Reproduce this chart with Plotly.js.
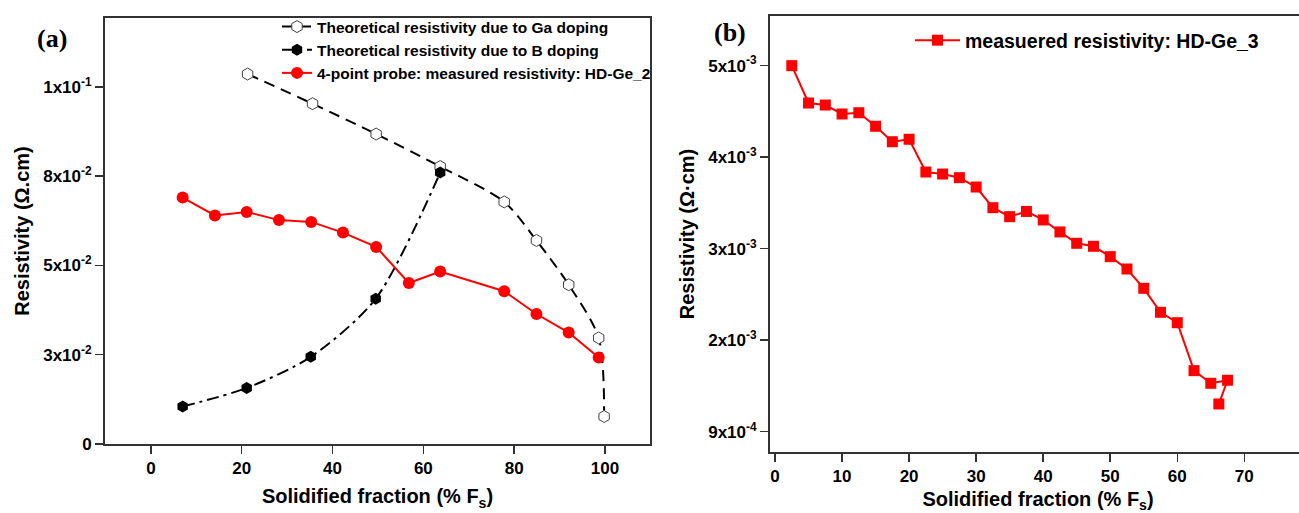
<!DOCTYPE html>
<html>
<head>
<meta charset="utf-8">
<script src="https://cdn.plot.ly/plotly-3.0.1.min.js"></script>
<style>
html,body{margin:0;padding:0;overflow:hidden;background:#fff;}
#chart{width:1310px;height:513px;}
</style>
</head>
<body>
<div id="chart"></div>
<script>
// Panel (a)
const gaX = [21.3, 35.6, 49.6, 63.7, 77.8, 84.9, 92.0, 98.6, 99.8];
const gaY = [0.1036, 0.0953, 0.0868, 0.0777, 0.0678, 0.0570, 0.0446, 0.0297, 0.0077];
const bX = [7.0, 21.1, 35.2, 49.5, 63.7];
const bY = [0.0105, 0.0157, 0.0244, 0.0407, 0.0760];
const redX = [7.0, 14.1, 21.1, 28.2, 35.3, 42.3, 49.6, 56.8, 63.7, 77.8, 84.9, 92.0, 98.6];
const redY = [0.0690, 0.0640, 0.0650, 0.0627, 0.0622, 0.0592, 0.0552, 0.0451, 0.0483, 0.0428, 0.0364, 0.0312, 0.0242];
const aTickVals = [0, 0.025, 0.05, 0.075, 0.1];
const aTickText = ['0', '3x10<sup>-2</sup>', '5x10<sup>-2</sup>', '8x10<sup>-2</sup>', '1x10<sup>-1</sup>'];

// Panel (b)
const hdX = [2.5, 5, 7.5, 10, 12.5, 15, 17.5, 20, 22.5, 25, 27.5, 30, 32.5, 35, 37.5, 40, 42.5, 45, 47.5, 50, 52.5, 55, 57.5, 60, 62.5, 65, 67.5, 66.2];
const hdY = [0.005000, 0.004592, 0.004570, 0.004472, 0.004486, 0.004338, 0.004169, 0.004196, 0.003838, 0.003816, 0.003776, 0.003674, 0.003448, 0.003350, 0.003407, 0.003314, 0.003183, 0.003059, 0.003026, 0.002913, 0.002778, 0.002567, 0.002305, 0.002191, 0.001667, 0.001529, 0.001562, 0.001303];
const bTickVals = [0.001, 0.002, 0.003, 0.004, 0.005];
const bTickText = ['9x10<sup>-4</sup>', '2x10<sup>-3</sup>', '3x10<sup>-3</sup>', '4x10<sup>-3</sup>', '5x10<sup>-3</sup>'];

const W = 1310, H = 513;
const px = v => v / W;
const py = v => (H - v) / H;
const SANS = 'Liberation Sans, Arial, sans-serif';

const traces = [
  {x: gaX, y: gaY, xaxis: 'x', yaxis: 'y', mode: 'lines+markers', name: 'Theoretical resistivity due to Ga doping',
   line: {color: '#000', width: 2, dash: '11px,7px', shape: 'spline', smoothing: 0.8},
   marker: {symbol: 'hexagon', size: 12, color: '#fff', line: {color: '#444', width: 1}}, legend: 'legend'},
  {x: bX, y: bY, xaxis: 'x', yaxis: 'y', mode: 'lines+markers', name: 'Theoretical resistivity due to B doping',
   line: {color: '#000', width: 2, dash: '12px,5px,3px,5px', shape: 'spline', smoothing: 0.8},
   marker: {symbol: 'hexagon', size: 12, color: '#000'}, legend: 'legend'},
  {x: redX, y: redY, xaxis: 'x', yaxis: 'y', mode: 'lines+markers', name: '4-point probe: measured resistivity: HD-Ge_2',
   line: {color: '#ff0000', width: 2},
   marker: {symbol: 'circle', size: 12, color: '#ff0000'}, legend: 'legend'},
  {x: hdX, y: hdY, xaxis: 'x2', yaxis: 'y2', mode: 'lines+markers', name: 'measuered resistivity: HD-Ge_3',
   line: {color: '#ff0000', width: 2},
   marker: {symbol: 'square', size: 11, color: '#ff0000'}, legend: 'legend2'}
];

const axisCommon = {
  showline: true, mirror: true, linecolor: '#333', linewidth: 2,
  ticks: 'outside', ticklen: 8, tickwidth: 1.5, tickcolor: '#333',
  showgrid: false, zeroline: false,
  tickfont: {family: SANS, size: 17, color: '#000', weight: 'bold'}
};
const titleFont = {family: SANS, size: 20, color: '#000', weight: 'bold'};

const layout = {
  width: W, height: H,
  margin: {l: 0, r: 0, t: 0, b: 0},
  paper_bgcolor: '#fff', plot_bgcolor: '#fff',
  font: {family: SANS, color: '#000', weight: 'bold'},
  showlegend: true,
  xaxis: Object.assign({}, axisCommon, {
    domain: [px(105), px(650)], range: [-10.1, 109.9], anchor: 'y',
    tickvals: [0, 20, 40, 60, 80, 100],
    title: {text: 'Solidified fraction (% F<sub>s</sub>)', font: titleFont, standoff: 12}
  }),
  yaxis: Object.assign({}, axisCommon, {
    domain: [py(444), py(18)], range: [0, 0.1193], anchor: 'x',
    tickvals: aTickVals, ticktext: aTickText,
    title: {text: 'Resistivity (Ω.cm)', font: titleFont, standoff: 8}
  }),
  xaxis2: Object.assign({}, axisCommon, {
    domain: [px(770), px(1306)], range: [-0.75, 79.2], anchor: 'y2',
    tickvals: [0, 10, 20, 30, 40, 50, 60, 70],
    title: {text: 'Solidified fraction (% F<sub>s</sub>)', font: titleFont, standoff: 12}
  }),
  yaxis2: Object.assign({}, axisCommon, {
    domain: [py(452), py(16)], range: [0.000778, 0.005543], anchor: 'x2',
    tickvals: bTickVals, ticktext: bTickText,
    title: {text: 'Resistivity (Ω·cm)', font: titleFont, standoff: 8}
  }),
  legend: {
    x: px(277), y: py(10), xanchor: 'left', yanchor: 'top',
    bgcolor: 'rgba(0,0,0,0)', borderwidth: 0, tracegroupgap: 0,
    font: {family: SANS, size: 15.5, color: '#000', weight: 'bold'}
  },
  legend2: {
    x: px(910), y: py(21), xanchor: 'left', yanchor: 'top', itemwidth: 45,
    bgcolor: 'rgba(0,0,0,0)', borderwidth: 0,
    font: {family: SANS, size: 19.5, color: '#000', weight: 'bold'}
  },
  annotations: [
    {text: '(a)', x: px(35), y: py(38), xref: 'paper', yref: 'paper', xanchor: 'left', yanchor: 'middle', showarrow: false,
     font: {family: 'Liberation Serif, Times New Roman, serif', size: 26, color: '#000', weight: 'bold'}},
    {text: '(b)', x: px(712), y: py(32), xref: 'paper', yref: 'paper', xanchor: 'left', yanchor: 'middle', showarrow: false,
     font: {family: 'Liberation Serif, Times New Roman, serif', size: 26, color: '#000', weight: 'bold'}}
  ]
};

Plotly.newPlot('chart', traces, layout, {displayModeBar: false, staticPlot: true});
</script>
</body>
</html>
